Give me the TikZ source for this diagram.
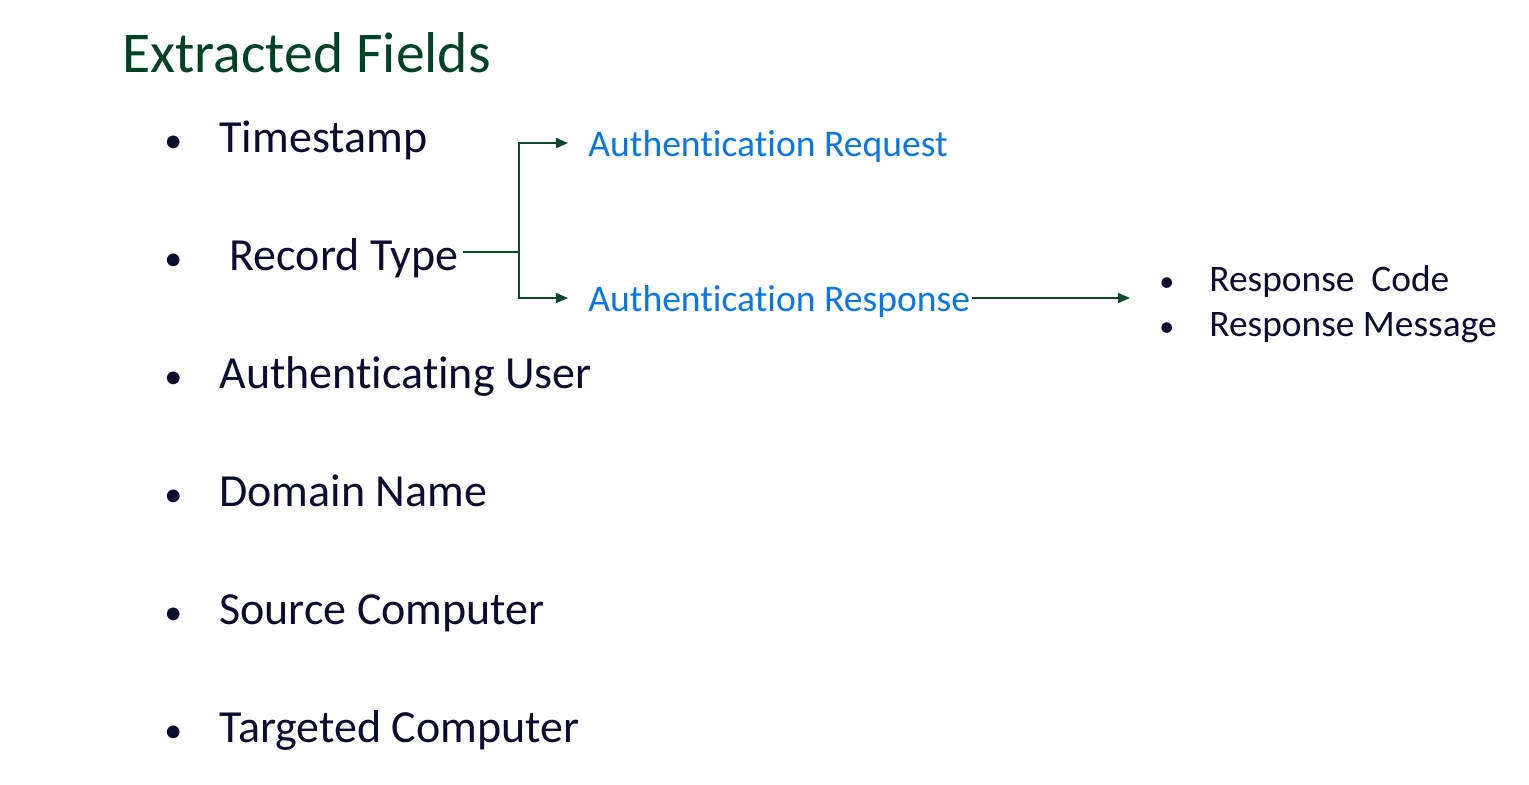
\documentclass[tikz,border=0pt]{standalone}
\usepackage{fontspec}
\setmainfont[RawFeature={-liga;-clig;-calt}]{Carlito}
\usetikzlibrary{positioning,arrows.meta}
\definecolor{titlegreen}{RGB}{0,66,38}
\definecolor{fieldnavy}{RGB}{12,12,46}
\definecolor{valueblue}{RGB}{10,117,232}
\definecolor{linegreen}{RGB}{14,72,44}
\newcommand{\bul}{\makebox[27.5pt][l]{\fontsize{18}{18}\selectfont\textbullet}}
\newcommand{\subbul}{\makebox[25pt][l]{\fontsize{15}{15}\selectfont\textbullet}}
\tikzstyle{heading} = [anchor=base west, inner sep=0pt, text=titlegreen, font=\fontsize{28.8}{34}\selectfont]
\tikzstyle{field} = [anchor=base west, inner xsep=2pt, inner ysep=0pt, text height=18pt, text depth=0pt, text=fieldnavy, font=\fontsize{23}{27}\selectfont]
\tikzstyle{value} = [anchor=base west, inner xsep=1pt, inner ysep=0pt, text height=13pt, text depth=0pt, text=valueblue, font=\fontsize{18.8}{22}\selectfont]
\tikzstyle{subfield} = [anchor=base west, inner xsep=1pt, inner ysep=0pt, text height=12pt, text depth=0pt, text=fieldnavy, font=\fontsize{18.7}{22}\selectfont]
\tikzstyle{link} = [line width=0.75pt, draw=linegreen]
\tikzstyle{arrow} = [line width=0.75pt, draw=linegreen, -{Triangle[length=6pt,width=5pt]}]

\begin{document}
\begin{tikzpicture}[x=0.5pt, y=-0.5pt]
\useasboundingbox (0,0) rectangle (1529,784);

\node (title) [heading] at (122,72) {Extracted Fields};

\node (ts) [field] at (160,152) {\bul Timestamp};
\node (rt) [field, below=59pt of ts.base west, anchor=base west] {\bul\ Record Type};
\node (au) [field, below=59pt of rt.base west, anchor=base west] {\bul Authenticating User};
\node (dn) [field, below=59pt of au.base west, anchor=base west] {\bul Domain Name};
\node (sc) [field, below=59pt of dn.base west, anchor=base west] {\bul Source Computer};
\node (tc) [field, below=59pt of sc.base west, anchor=base west] {\bul Targeted Computer};

\node (req) [value] at (586,156) {Authentication Request};
\node (resp) [value] at (586,311) {Authentication Response};

\node (rc) [subfield] at (1157,291) {\subbul Response\ \ Code};
\node (rm) [subfield, below=22.5pt of rc.base west, anchor=base west] {\subbul Response Message};

% record type splits into the two values
\coordinate (fork) at ([xshift=28pt]rt.east);
\draw [link] (rt.east) -- (fork);
\draw [arrow, shorten >=9pt] (fork) |- (req);
\draw [arrow, shorten >=9pt] (fork) |- (resp);
\draw [arrow, shorten >=13.5pt] (resp) -- (resp -| rc.west);

\end{tikzpicture}
\end{document}
